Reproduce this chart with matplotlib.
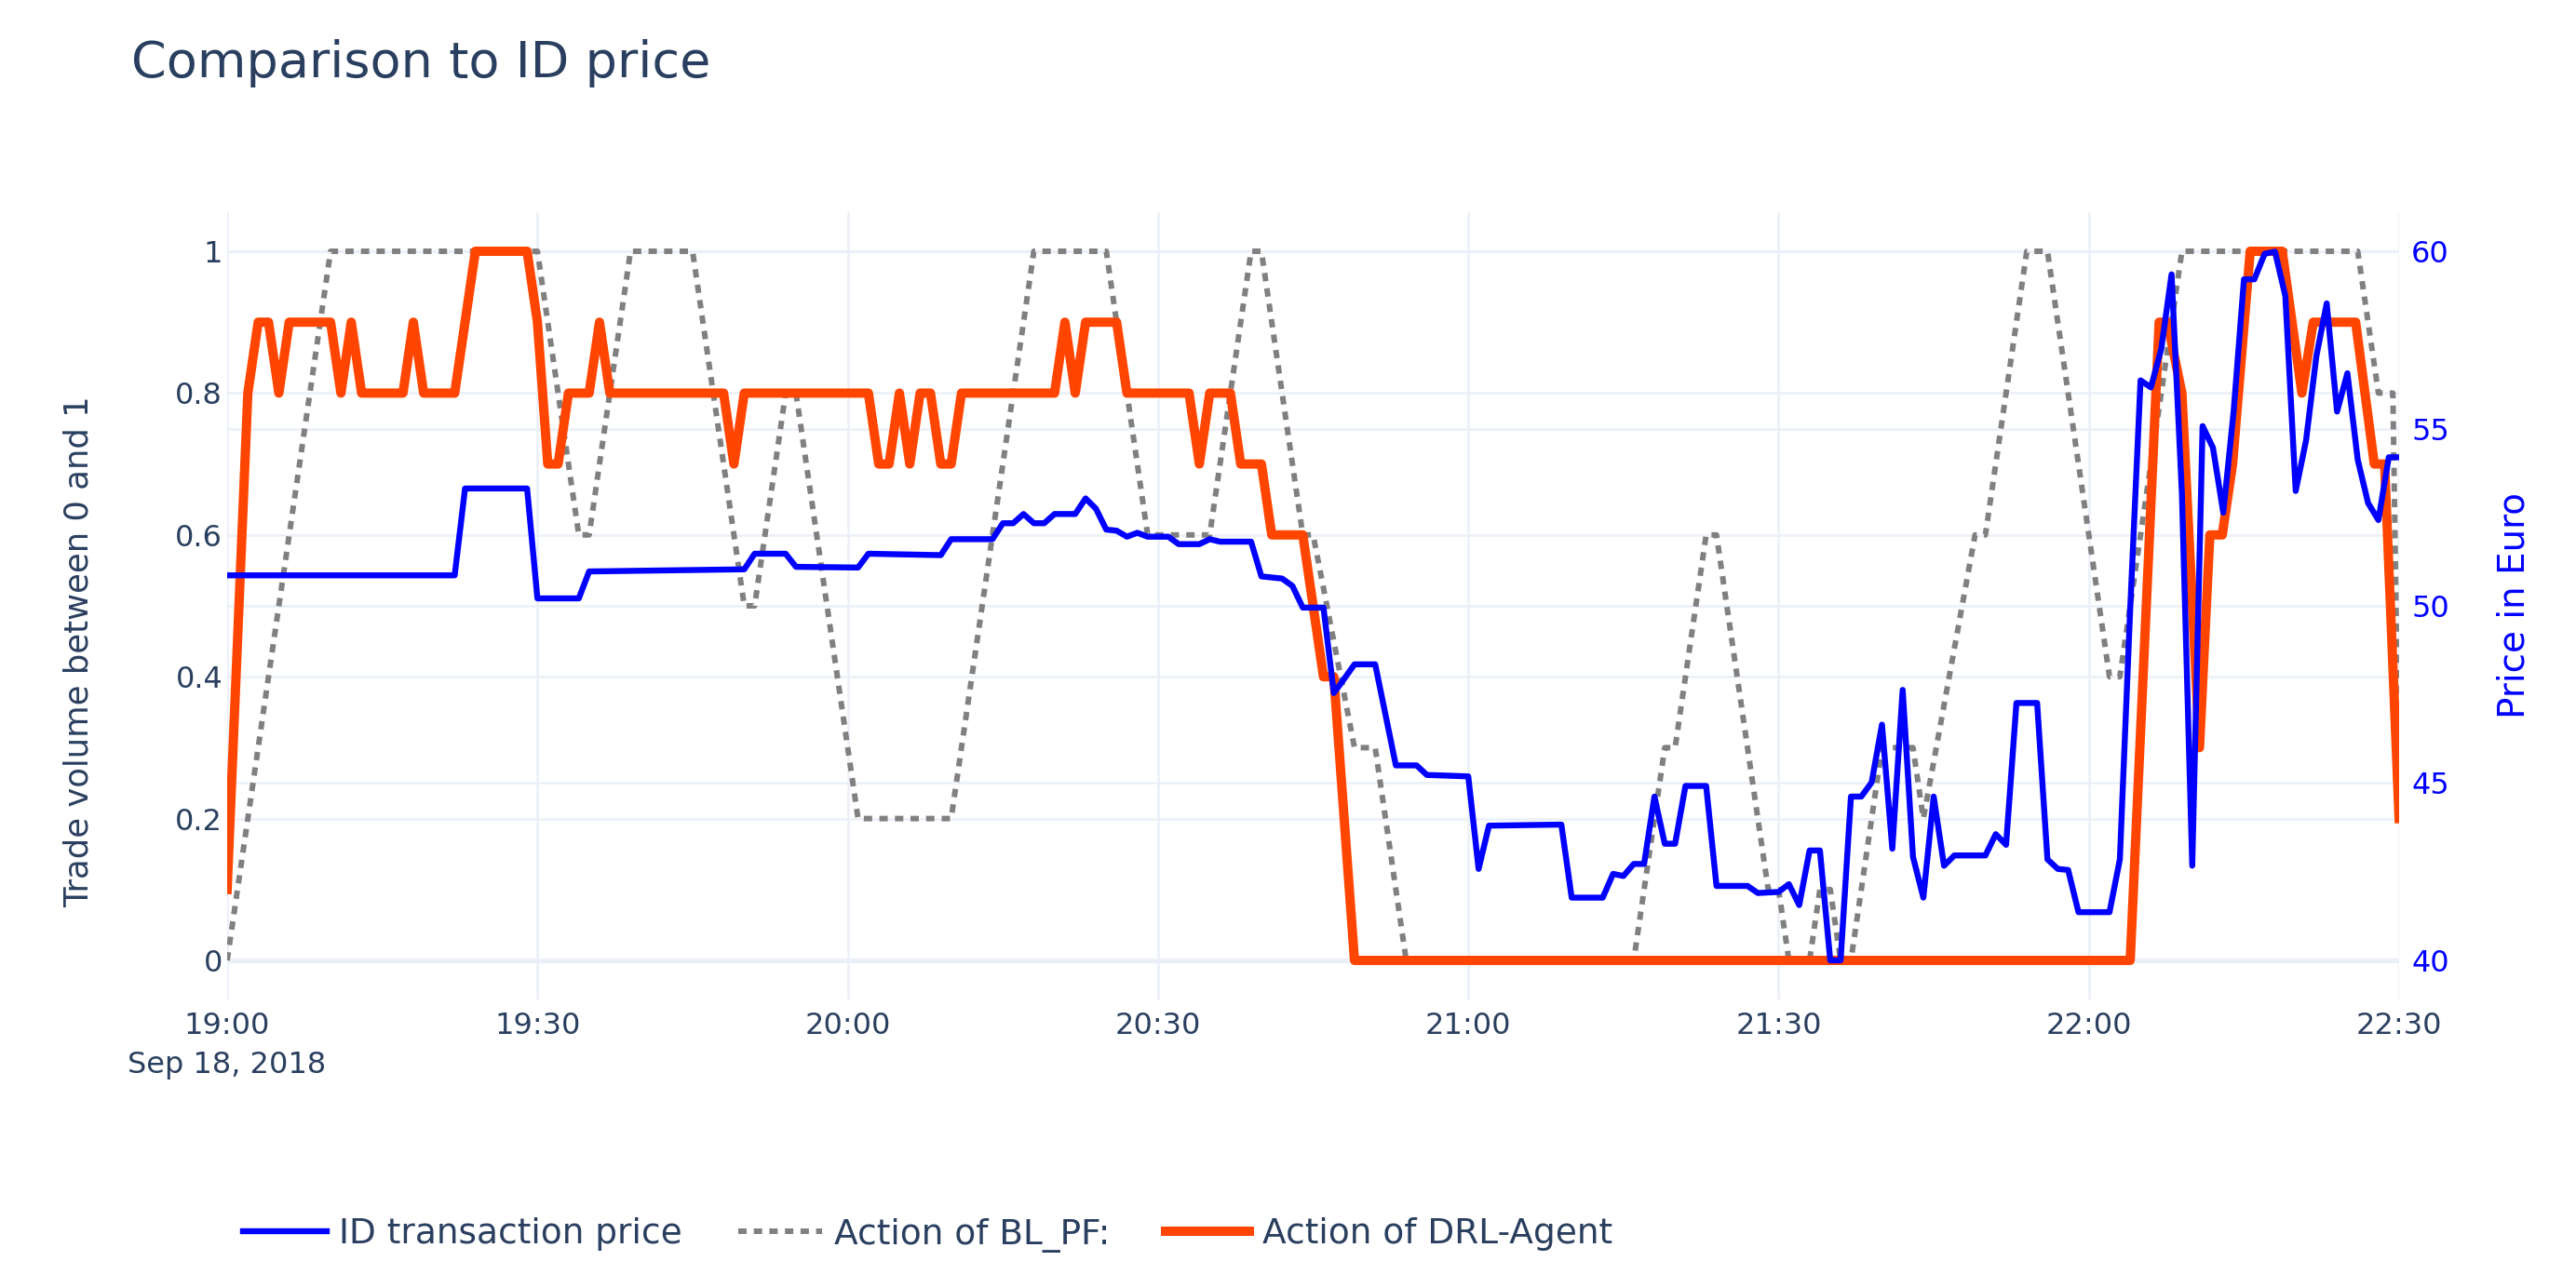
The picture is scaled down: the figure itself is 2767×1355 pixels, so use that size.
import matplotlib
matplotlib.use("Agg")
import matplotlib.pyplot as plt
import pandas as pd

START = "2018-09-18 19:00"

# ID transaction price (Euro): minutes after 19:00 and price
price_min = [0, 22, 23, 29, 30, 34, 35, 50, 51, 54, 55, 61, 62, 69, 70, 74, 75, 76, 77, 78,
             79, 80, 82, 83, 84, 85, 86, 87, 88, 89, 91, 92, 94, 95, 96, 99, 100, 102, 103, 104,
             106, 107, 108, 109, 111, 113, 115, 116, 120, 121, 122, 129, 130, 133, 134, 135, 136, 137, 138, 139,
             140, 141, 143, 144, 147, 148, 150, 151, 152, 153, 154, 155, 156, 157, 158, 159, 160, 161, 162, 163,
             164, 165, 166, 167, 170, 171, 172, 173, 175, 176, 177, 178, 179, 182, 183, 184, 185, 186, 187, 188,
             189, 190, 191, 192, 193, 194, 195, 196, 197, 198, 199, 200, 201, 202, 203, 204, 205, 206, 207, 208,
             209, 210]
price_eur = [50.86, 50.86, 53.31, 53.31, 50.21, 50.21, 50.97, 51.03, 51.47, 51.47, 51.10, 51.08, 51.47, 51.43, 51.88, 51.88, 52.33, 52.33, 52.59, 52.33,
             52.33, 52.59, 52.59, 53.03, 52.74, 52.15, 52.12, 51.95, 52.06, 51.95, 51.95, 51.74, 51.74, 51.88, 51.81, 51.81, 50.83, 50.77, 50.56, 49.95,
             49.95, 47.54, 47.94, 48.35, 48.35, 45.50, 45.50, 45.23, 45.19, 42.58, 43.80, 43.83, 41.77, 41.77, 42.44, 42.38, 42.72, 42.72, 44.62, 43.29,
             43.29, 44.92, 44.92, 42.10, 42.10, 41.90, 41.93, 42.15, 41.56, 43.10, 43.10, 40.00, 40.00, 44.62, 44.62, 45.02, 46.65, 43.15, 47.63, 42.92,
             41.77, 44.62, 42.67, 42.96, 42.96, 43.56, 43.26, 47.26, 47.26, 42.85, 42.58, 42.55, 41.36, 41.36, 42.85, 49.91, 56.36, 56.16, 57.24, 59.35,
             53.17, 42.67, 55.07, 54.46, 52.63, 55.48, 59.21, 59.21, 59.93, 59.99, 58.74, 53.24, 54.66, 57.04, 58.53, 55.48, 56.56, 54.12, 52.90, 52.42,
             54.19, 54.19]

# Action of BL_PF (trade volume 0..1)
blpf_min = [0, 10, 30, 34, 35, 39, 45, 50, 51, 54, 55, 61, 70, 78, 85, 89, 95, 99, 100, 104,
            105, 109, 111, 114, 136, 139, 140, 143, 144, 149, 150, 151, 153, 154, 155, 156, 157, 160, 163, 164,
            169, 170, 174, 176, 182, 183, 189, 206, 208, 209.4, 210]
blpf_val = [0.0, 1.0, 1.0, 0.6, 0.6, 1.0, 1.0, 0.5, 0.5, 0.8, 0.8, 0.2, 0.2, 1.0, 1.0, 0.6, 0.6, 1.0, 1.0, 0.6,
            0.6, 0.3, 0.3, 0.0, 0.0, 0.3, 0.3, 0.6, 0.6, 0.1, 0.1, 0.0, 0.0, 0.1, 0.1, 0.0, 0.0, 0.3, 0.3, 0.2,
            0.6, 0.6, 1.0, 1.0, 0.4, 0.4, 1.0, 1.0, 0.8, 0.8, 0.2]

# Action of DRL-Agent (trade volume 0..1)
drl_min = [0, 2, 3, 4, 5, 6, 10, 11, 12, 13, 17, 18, 19, 22, 24, 29, 30, 31, 32, 33,
           35, 36, 37, 48, 49, 50, 62, 63, 64, 65, 66, 67, 68, 69, 70, 71, 80, 81, 82, 83,
           86, 87, 93, 94, 95, 97, 98, 100, 101, 104, 106, 107, 109, 184, 186.8, 187.6, 189, 190.7, 191.7, 192.9,
           193.9, 195.6, 198.7, 200.6, 201.7, 205.8, 207.6, 208.6, 210]
drl_val = [0.1, 0.8, 0.9, 0.9, 0.8, 0.9, 0.9, 0.8, 0.9, 0.8, 0.8, 0.9, 0.8, 0.8, 1.0, 1.0, 0.9, 0.7, 0.7, 0.8,
           0.8, 0.9, 0.8, 0.8, 0.7, 0.8, 0.8, 0.7, 0.7, 0.8, 0.7, 0.8, 0.8, 0.7, 0.7, 0.8, 0.8, 0.9, 0.8, 0.9,
           0.9, 0.8, 0.8, 0.7, 0.8, 0.8, 0.7, 0.7, 0.6, 0.6, 0.4, 0.4, 0.0, 0.0, 0.9, 0.9, 0.8, 0.3, 0.6, 0.6,
           0.7, 1.0, 1.0, 0.8, 0.9, 0.9, 0.7, 0.7, 0.2]

x_tick_min = [0, 30, 60, 90, 120, 150, 180, 210]
x_tick_labels = ["19:00\nSep 18, 2018", "19:30", "20:00", "20:30", "21:00", "21:30", "22:00", "22:30"]
left_ticks = [0, 0.2, 0.4, 0.6, 0.8, 1]
left_tick_labels = ["0", "0.2", "0.4", "0.6", "0.8", "1"]
right_ticks = [40, 45, 50, 55, 60]
right_tick_labels = ["40", "45", "50", "55", "60"]

TEXT = "#2a3f5f"
GRID = "#EBF0F8"
plt.rcParams["font.family"] = ["DejaVu Sans"]


def to_time(mins):
    return (pd.Timestamp(START) + pd.to_timedelta(mins, unit="m")).to_numpy()


fig = plt.figure(figsize=(27.67, 13.55), dpi=100, facecolor="white")
ax = fig.add_axes([0.08818, 0.20716, 0.84315, 0.62480])
axg = ax.twinx()
ax2 = ax.twinx()
axg.set_zorder(0)
ax.set_zorder(1)
ax2.set_zorder(2)
for a in (ax, axg, ax2):
    a.patch.set_visible(False)
    for s in a.spines.values():
        s.set_visible(False)

ax.set_xlim(to_time([0, 210]))
ax.set_ylim(-0.0555, 1.0555)
axg.set_ylim(38.889, 61.111)
ax2.set_ylim(38.889, 61.111)

# grids
ax.set_xticks(to_time(x_tick_min))
ax.set_xticklabels(x_tick_labels, linespacing=1.45)
ax.set_yticks(left_ticks)
ax.set_yticklabels(left_tick_labels)
ax.set_axisbelow(True)
ax.grid(True, color=GRID, lw=1.8)
ax.axhline(0, color=GRID, lw=3.8, zorder=0.5)
axg.set_yticks(right_ticks)
axg.grid(True, axis="y", color=GRID, lw=1.8)
axg.tick_params(axis="y", length=0, labelright=False, right=False)

ax.tick_params(axis="both", length=0, labelsize=23, colors=TEXT)
ax.tick_params(axis="y", pad=3.5)
ax.tick_params(axis="x", pad=9)
ax2.set_yticks(right_ticks)
ax2.set_yticklabels(right_tick_labels)
ax2.tick_params(axis="y", length=0, labelsize=23, labelcolor="blue", pad=9.5)

l_bl, = ax.plot(to_time(blpf_min), blpf_val, color="grey", lw=4.3,
                linestyle=(0, (1.5, 1.3)), dash_capstyle="butt",
                label="Action of BL_PF:")
l_drl, = ax.plot(to_time(drl_min), drl_val, color="#FF4500", lw=7.2,
                 solid_joinstyle="round", label="Action of DRL-Agent")
l_pr, = ax2.plot(to_time(price_min), price_eur, color="blue", lw=4.6,
                 solid_joinstyle="round", label="ID transaction price")

fig.text(141 / 2767, 1 - 68 / 1355, "Comparison to ID price", fontsize=39,
         color=TEXT, ha="left", va="center")
fig.text(85 / 2767, 0.4831, "Trade volume between 0 and 1", fontsize=25.5,
         color=TEXT, rotation=90, ha="center", va="center")
fig.text(2700 / 2767, 0.5196, "Price in Euro", fontsize=28,
         color="blue", rotation=90, ha="center", va="center")

fig.legend([l_pr, l_bl, l_drl],
           ["ID transaction price", "Action of BL_PF:", "Action of DRL-Agent"],
           loc="center left", bbox_to_anchor=(261 / 2767, 28 / 1355), ncol=3,
           frameon=False, fontsize=27, handlelength=2.4, handletextpad=0.35,
           columnspacing=1.6, borderpad=0, borderaxespad=0, labelcolor=TEXT)

fig.savefig("out.png", dpi=100, facecolor="white")
